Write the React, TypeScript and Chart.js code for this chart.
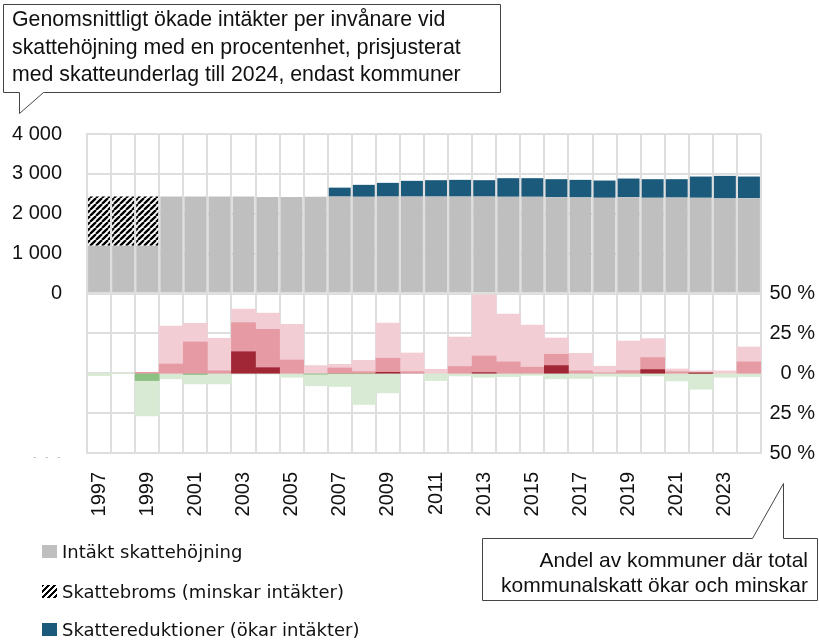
import React, { useEffect, useRef } from "react";
import { Chart, registerables } from "chart.js";

Chart.register(...registerables);

// ---------- data ----------
const years = [
  "1997", "1998", "1999", "2000", "2001", "2002", "2003", "2004", "2005", "2006",
  "2007", "2008", "2009", "2010", "2011", "2012", "2013", "2014", "2015", "2016",
  "2017", "2018", "2019", "2020", "2021", "2022", "2023", "2024",
];

// Top panel (kr per invånare)
const intaktSkattehojning = [
  1200, 1200, 1200, 2430, 2430, 2430, 2430, 2420, 2420, 2425,
  2430, 2425, 2430, 2430, 2430, 2430, 2430, 2425, 2425, 2415,
  2410, 2400, 2415, 2400, 2405, 2400, 2385, 2390,
];
const skattebroms = [
  1230, 1230, 1230, null, null, null, null, null, null, null,
  null, null, null, null, null, null, null, null, null, null,
  null, null, null, null, null, null, null, null,
];
const skattereduktioner = [
  null, null, null, null, null, null, null, null, null, null,
  225, 300, 345, 395, 412, 420, 412, 467, 467, 452,
  440, 433, 468, 467, 462, 533, 565, 543,
];

// Bottom panel (% of kommuner) – increases (stacked upward)
const okarStor = [
  0, 0, 0, 0, 0, 0, 13.5, 3.5, 0, 0,
  0, 0, 0.6, 0, 0, 0, 0.4, 0, 0, 4.8,
  0, 0, 0, 2.3, 0, 0.2, 0, 0,
];
const okarMedel = [
  0, 0, 0.6, 5.8, 19.6, 1.5, 18.2, 24.0, 8.3, 0,
  3.3, 1.0, 8.8, 1.0, 0, 4.2, 10.4, 7.1, 3.8, 7.1,
  1.5, 0.3, 1.7, 7.5, 1.0, 0.4, 0, 7.1,
];
const okarLiten = [
  0, 0, 0, 23.8, 11.7, 20.4, 8.5, 10.2, 22.3, 4.8,
  2.3, 7.1, 22.1, 11.7, 2.5, 18.5, 38.4, 30.0, 26.4, 10.2,
  11.0, 4.1, 18.5, 11.9, 1.7, 0.9, 1.5, 9.4,
];
// decreases (stacked downward)
const minskarStor = [
  0, 0, 4.6, 0, 0.8, 0, 0, 0, 0, 0.6,
  0.3, 0.3, 0, 0, 0, 0, 0, 0, 0, 0,
  0, 0, 0, 0, 0, 0.3, 0, 0,
];
const minskarLiten = [
  1.5, 0.3, 22.1, 3.5, 5.9, 6.7, 0.5, 0.5, 2.5, 7.3,
  8.0, 19.3, 12.3, 0, 4.6, 1.7, 2.5, 2.1, 1.3, 3.5,
  3.3, 1.9, 2.1, 1.7, 4.8, 9.7, 2.5, 2.1,
];

// left-axis ticks & right-axis mapping (percent panel lives below the kr panel)
const leftTicks = [0, 1000, 2000, 3000, 4000];
const PCT_ZERO = -2000; // axis value where 0 % sits
const UNITS_PER_PCT = 40; // 25 % == 1000 axis units

const COLORS = {
  grey: "#bfbfbf",
  blue: "#1c5a7c",
  pinkLight: "#f2cdd3",
  pinkMid: "#e59aa4",
  red: "#a12636",
  greenLight: "#d9ead4",
  greenDark: "#8cc184",
  grid: "#dedede",
  text: "#111111",
};

const FONT = "'Liberation Sans', Arial, sans-serif";

function makeHatch(): CanvasPattern | string {
  const s = 6;
  const c = document.createElement("canvas");
  c.width = s;
  c.height = s;
  const g = c.getContext("2d");
  if (!g) return "#000";
  g.fillStyle = "#fff";
  g.fillRect(0, 0, s, s);
  g.strokeStyle = "#000";
  g.lineWidth = 2.3;
  g.beginPath();
  for (const k of [-1, 0, 1]) {
    g.moveTo(k * s, s);
    g.lineTo(k * s + s, 0);
  }
  g.stroke();
  return g.createPattern(c, "repeat") || "#000";
}

function fmtKr(v: number): string {
  if (v >= 1000) {
    const th = Math.floor(v / 1000);
    const rest = String(v % 1000).padStart(3, "0");
    return `${th} ${rest}`;
  }
  return String(v);
}

export default function App() {
  const ref = useRef<HTMLCanvasElement | null>(null);

  useEffect(() => {
    if (!ref.current) return;
    const hatch = makeHatch();

    const stackSeg = (base: number[], seg: (number | null)[], sign: number, origin: number) =>
      seg.map((v, i) => {
        if (v === null || v === 0) return null;
        const b = origin + sign * base[i] * UNITS_PER_PCT;
        return [b, b + sign * (v as number) * UNITS_PER_PCT];
      });

    const zeros = years.map(() => 0);
    const cumStor = okarStor.slice();
    const cumMedel = okarStor.map((v, i) => v + okarMedel[i]);
    const cumMinStor = minskarStor.slice();

    const topBar = { barPercentage: 0.91, categoryPercentage: 1, grouped: false, borderWidth: 0 };
    const botBar = { barPercentage: 1, categoryPercentage: 1, grouped: false, borderWidth: 0 };

    const chart = new Chart(ref.current, {
      type: "bar",
      data: {
        labels: years,
        datasets: [
          {
            label: "Intäkt skattehöjning",
            data: intaktSkattehojning.map((v) => [0, v]) as any,
            backgroundColor: COLORS.grey,
            ...topBar,
          },
          {
            label: "Skattebroms (minskar intäkter)",
            data: skattebroms.map((v, i) => (v === null ? null : [intaktSkattehojning[i], intaktSkattehojning[i] + v])) as any,
            backgroundColor: hatch as any,
            ...topBar,
          },
          {
            label: "Skattereduktioner (ökar intäkter)",
            data: skattereduktioner.map((v, i) => (v === null ? null : [intaktSkattehojning[i], intaktSkattehojning[i] + v])) as any,
            backgroundColor: COLORS.blue,
            ...topBar,
          },
          {
            label: "Ökar mycket",
            data: stackSeg(zeros, okarStor, 1, PCT_ZERO) as any,
            backgroundColor: COLORS.red,
            ...botBar,
          },
          {
            label: "Ökar",
            data: stackSeg(cumStor, okarMedel, 1, PCT_ZERO) as any,
            backgroundColor: COLORS.pinkMid,
            ...botBar,
          },
          {
            label: "Ökar lite",
            data: stackSeg(cumMedel, okarLiten, 1, PCT_ZERO) as any,
            backgroundColor: COLORS.pinkLight,
            ...botBar,
          },
          {
            label: "Minskar",
            data: stackSeg(zeros, minskarStor, -1, PCT_ZERO) as any,
            backgroundColor: COLORS.greenDark,
            ...botBar,
          },
          {
            label: "Minskar lite",
            data: stackSeg(cumMinStor, minskarLiten, -1, PCT_ZERO) as any,
            backgroundColor: COLORS.greenLight,
            ...botBar,
          },
        ],
      },
      options: {
        responsive: false,
        animation: false,
        devicePixelRatio: 1,
        layout: { padding: { top: 134, left: 0, right: 4, bottom: 0 } },
        plugins: {
          legend: { display: false },
          tooltip: { enabled: false },
        },
        scales: {
          x: {
            offset: true,
            grid: { offset: true, color: COLORS.grid, lineWidth: 2, drawTicks: false },
            border: { color: COLORS.grid, width: 2 },
            ticks: {
              autoSkip: false,
              minRotation: 90,
              maxRotation: 90,
              padding: 19,
              color: COLORS.text,
              font: { family: FONT, size: 20 },
              callback: (_v: any, i: number) => (i % 2 === 0 ? years[i] : ""),
            },
            afterFit: (s: any) => {
              s.height = 188;
            },
          },
          y: {
            position: "left",
            min: -4000,
            max: 4000,
            grid: { color: COLORS.grid, lineWidth: 2, drawTicks: false },
            border: { color: COLORS.grid, width: 2 },
            ticks: {
              stepSize: 1000,
              padding: 25,
              color: COLORS.text,
              font: { family: FONT, size: 20 },
              callback: (v: any) => (leftTicks.includes(Number(v)) ? fmtKr(Number(v)) : ""),
            },
            afterFit: (s: any) => {
              s.width = 87;
            },
          },
          y2: {
            position: "right",
            min: -4000,
            max: 4000,
            grid: { display: false, drawTicks: false },
            border: { display: false },
            ticks: {
              stepSize: 1000,
              padding: 0,
              crossAlign: "far",
              color: COLORS.text,
              font: { family: FONT, size: 20 },
              callback: (v: any) => {
                const n = Number(v);
                if (n > 0) return "";
                return `${Math.abs((n - PCT_ZERO) / UNITS_PER_PCT)} %`;
              },
            },
            afterFit: (s: any) => {
              s.width = 54;
            },
          },
        },
      } as any,
    });

    return () => chart.destroy();
  }, []);

  const legendItems = [
    { label: "Intäkt skattehöjning", top: 551, bg: COLORS.grey },
    {
      label: "Skattebroms (minskar intäkter)",
      top: 591,
      bg: "repeating-linear-gradient(135deg, #000 0px, #000 2px, #fff 2px, #fff 4.2px)",
    },
    { label: "Skattereduktioner (ökar intäkter)", top: 629, bg: COLORS.blue },
  ];

  return (
    <div
      style={{
        position: "absolute",
        left: 0,
        top: 0,
        width: 819,
        height: 641,
        background: "#fff",
        overflow: "hidden",
      }}
    >
      <canvas
        ref={ref}
        width={819}
        height={641}
        style={{ position: "absolute", left: 0, top: 0, width: 819, height: 641 }}
      />
      <svg
        width={819}
        height={641}
        style={{ position: "absolute", left: 0, top: 0, pointerEvents: "none" }}
      >
        <path
          d="M3.5,4.5 H500.5 V92.5 H43.5 L19.5,113.5 V92.5 H3.5 Z"
          fill="#fff"
          stroke="#444"
          strokeWidth={1}
        />
        <path
          d="M482.5,538.5 H752.5 L783.5,483.5 V538.5 H817.5 V600.5 H482.5 Z"
          fill="#fff"
          stroke="#444"
          strokeWidth={1}
        />
      </svg>
      <div
        style={{
          position: "absolute",
          left: 12,
          top: 6,
          fontFamily: FONT,
          fontSize: 21.3,
          lineHeight: "27.5px",
          color: COLORS.text,
          whiteSpace: "nowrap",
        }}
      >
        Genomsnittligt ökade intäkter per invånare vid
        <br />
        skattehöjning med en procentenhet, prisjusterat
        <br />
        med skatteunderlag till 2024, endast kommuner
      </div>
      <div
        style={{
          position: "absolute",
          left: 482,
          width: 326,
          top: 547,
          fontFamily: FONT,
          fontSize: 21,
          lineHeight: "25px",
          color: COLORS.text,
          textAlign: "right",
          whiteSpace: "nowrap",
        }}
      >
        Andel av kommuner där total
        <br />
        kommunalskatt ökar och minskar
      </div>
      <div
        style={{
          position: "absolute",
          left: 33,
          top: 451,
          fontFamily: FONT,
          fontSize: 10,
          color: "#bbb",
          letterSpacing: 3,
        }}
      >
        - - -
      </div>
      {legendItems.map((it) => (
        <div
          key={it.label}
          style={{
            position: "absolute",
            left: 42,
            top: it.top - 12,
            height: 24,
            display: "flex",
            alignItems: "center",
            fontFamily: "'DejaVu Sans', sans-serif",
            fontSize: 18,
            color: COLORS.text,
            whiteSpace: "nowrap",
          }}
        >
          <span
            style={{
              display: "inline-block",
              width: 15,
              height: 13,
              background: it.bg,
              marginRight: 5,
            }}
          />
          {it.label}
        </div>
      ))}
    </div>
  );
}
